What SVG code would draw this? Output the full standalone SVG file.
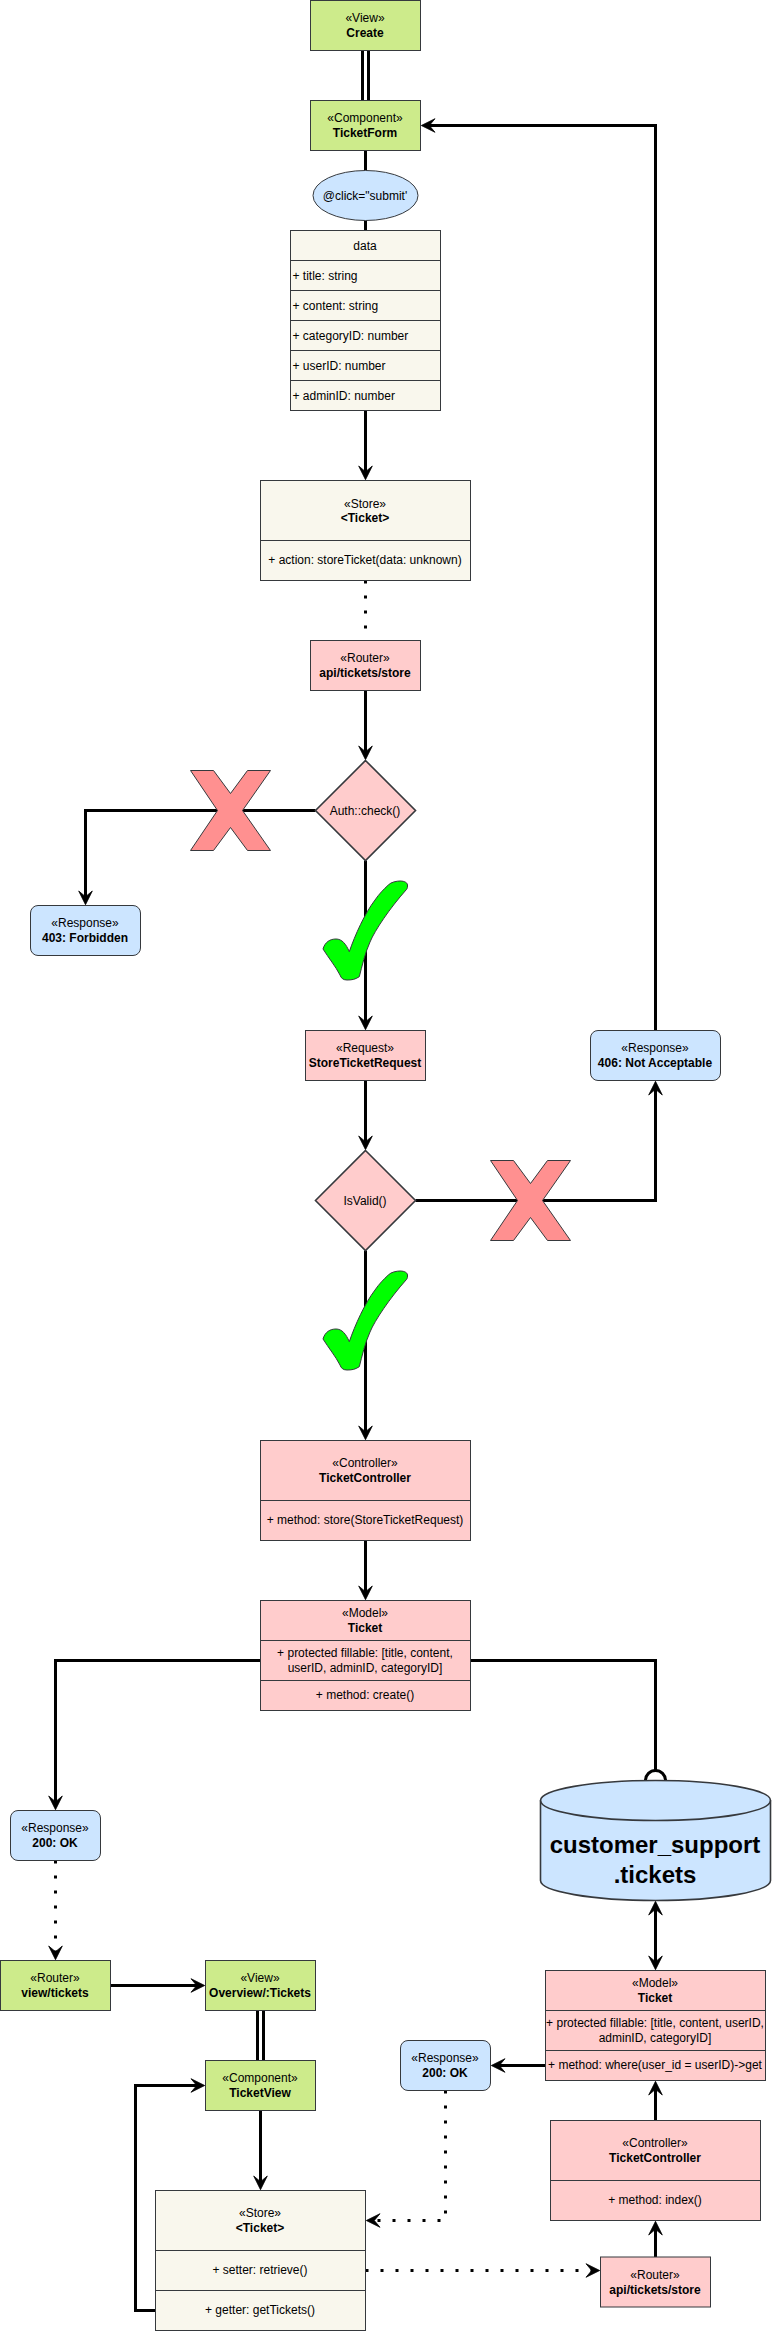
<svg xmlns="http://www.w3.org/2000/svg" width="772" height="2331" viewBox="0 0 772 2331">
<style>
text{font-family:"Liberation Sans",Arial,sans-serif;font-size:12px;fill:#000;text-anchor:middle}
.b{font-weight:bold}
.l{text-anchor:start}
.big{font-size:24px;font-weight:bold}
.s{stroke:#36393d;stroke-width:1}
.dm{stroke:#36393d;stroke-width:1.6}
.g{fill:#cdeb8b}.p{fill:#ffcccc}.c{fill:#f9f7ed}.u{fill:#cce5ff}
.d{fill:none;stroke:#36393d;stroke-width:1}
.x{fill:#ff9090;stroke:#36393d;stroke-width:1}
.k{fill:#00ff00;stroke:#36393d;stroke-width:1}
.w{fill:none;stroke:#000;stroke-width:3}
.a{marker-end:url(#h)}
.o{stroke-dasharray:3 12}
</style>
<defs>
<marker id="h" markerUnits="userSpaceOnUse" viewBox="0 0 15 15" markerWidth="15" markerHeight="15" refX="7" refY="7.5" orient="auto-start-reverse" overflow="visible"><path d="M14.2 7.5L0.5 0.7L6.2 7.5L0.5 14.3Z" fill="#000" stroke="#000" stroke-width="0.8"/></marker>
<path id="xm" d="M0 0H23L40 23L57 0H80L52 40L80 80H57L40 57L23 80H0L27 40Z"/>
<path id="ck" d="M349.3 201.7C355 185 365 163 375 150C379 144 384 139 388.3 135C391 132 397 131 400 131C405 131 408 133 407.5 136C407.5 138 407 139 406 140C390 158 375 180 370 192C365 203 362 216 359.3 226.7C355 229.5 352 230 347 230C343 230 341 228 340 225C336 217 328 207 323 199C325 192 330 189 336 189C342 189 346 194 349.3 201.7Z"/>
</defs>
<g id="connectors">
<path class="w" d="M362.5 50.5V100.5M368.5 50.5V100.5"/>
<path class="w" d="M365.5 150.5V170.5M365.5 220.5V230.5"/>
<path class="w a" d="M365.5 410.5V472.5"/>
<path class="w o" d="M365.5 580.5V640.5"/>
<path class="w a" d="M365.5 690.5V752.5"/>
<path class="w a" d="M315.5 810.5H85.5V897.5"/>
<path class="w a" d="M365.5 860.5V1022.5"/>
<path class="w a" d="M365.5 1080.5V1142.5"/>
<path class="w a" d="M415.5 1200.5H655.5V1088.5"/>
<path class="w a" d="M655.5 1030.5V125.5H428.5"/>
<path class="w a" d="M365.5 1250.5V1432.5"/>
<path class="w a" d="M365.5 1540.5V1592.5"/>
<path class="w a" d="M260.5 1660.5H55.5V1802.5"/>
<path class="w" d="M470.5 1660.5H655.5V1770.5M645.5 1780.5A10 10 0 0 1 665.5 1780.5"/>
<path class="w a" style="marker-start:url(#h)" d="M655.5 1908.5V1962.5"/>
<path class="w a" d="M545.5 2065.5H498.5"/>
<path class="w a" d="M655.5 2120.5V2088.5"/>
<path class="w a" d="M655.5 2257V2228.5"/>
<path class="w o a" d="M55.5 1860.5V1952.5"/>
<path class="w a" d="M110.5 1985.5H197.5"/>
<path class="w" d="M257.5 2010.5V2060.5M263.5 2010.5V2060.5"/>
<path class="w a" d="M260.5 2110.5V2182.5"/>
<path class="w a" d="M155.5 2310.5H135.5V2085.5H197.5"/>
<path class="w o a" d="M445.5 2090.5V2220.5H373.5"/>
<path class="w o a" d="M365.5 2270.5H592.5"/>
</g>
<g id="view-create"><rect class="s g" x="310.5" y="0.5" width="110" height="50"/><text x="365" y="21.7">«View»</text><text class="b" x="365" y="36.7">Create</text></g>
<g id="component-ticketform"><rect class="s g" x="310.5" y="100.5" width="110" height="50"/><text x="365" y="121.7">«Component»</text><text class="b" x="365" y="136.7">TicketForm</text></g>
<g id="click"><ellipse class="s u" cx="365.5" cy="195.5" rx="52.5" ry="25"/><text x="365" y="199.5">@click="submit'</text></g>
<g id="data"><rect class="s c" x="290.5" y="230.5" width="150" height="180"/><path class="d" d="M290.5 260.5H440.5M290.5 290.5H440.5M290.5 320.5H440.5M290.5 350.5H440.5M290.5 380.5H440.5"/>
<text x="365" y="249.5">data</text>
<text class="l" x="292.5" y="279.5">+ title: string</text>
<text class="l" x="292.5" y="309.5">+ content: string</text>
<text class="l" x="292.5" y="339.5">+ categoryID: number</text>
<text class="l" x="292.5" y="369.5">+ userID: number</text>
<text class="l" x="292.5" y="399.5">+ adminID: number</text></g>
<g id="store-1"><rect class="s c" x="260.5" y="480.5" width="210" height="100"/><path class="d" d="M260.5 540.5H470.5"/><text x="365" y="507.5">«Store»</text><text class="b" x="365" y="521.7">&lt;Ticket&gt;</text><text x="365" y="564">+ action: storeTicket(data: unknown)</text></g>
<g id="router-1"><rect class="s p" x="310.5" y="640.5" width="110" height="50"/><text x="365" y="661.7">«Router»</text><text class="b" x="365" y="676.7">api/tickets/store</text></g>
<g id="auth"><path class="dm p" d="M365.5 760.5L415.5 810.5L365.5 860.5L315.5 810.5Z"/><text x="365" y="814.5">Auth::check()</text></g>
<g id="cross-1"><use class="x" href="#xm" x="190.5" y="770.5"/></g>
<g id="response-403"><rect class="s u" x="30.5" y="905.5" width="110" height="50" rx="7.5"/><text x="85" y="926.7">«Response»</text><text class="b" x="85" y="941.7">403: Forbidden</text></g>
<g id="check-1"><use class="k" href="#ck" y="750"/></g>
<g id="request"><rect class="s p" x="305.5" y="1030.5" width="120" height="50"/><text x="365" y="1051.7">«Request»</text><text class="b" x="365" y="1066.7">StoreTicketRequest</text></g>
<g id="response-406"><rect class="s u" x="590.5" y="1030.5" width="130" height="50" rx="7.5"/><text x="655" y="1051.7">«Response»</text><text class="b" x="655" y="1066.7">406: Not Acceptable</text></g>
<g id="isvalid"><path class="dm p" d="M365.5 1150.5L415.5 1200.5L365.5 1250.5L315.5 1200.5Z"/><text x="365" y="1204.5">IsValid()</text></g>
<g id="cross-2"><use class="x" href="#xm" x="490.5" y="1160.5"/></g>
<g id="check-2"><use class="k" href="#ck" y="1140"/></g>
<g id="controller-1"><rect class="s p" x="260.5" y="1440.5" width="210" height="100"/><path class="d" d="M260.5 1500.5H470.5"/><text x="365" y="1466.7">«Controller»</text><text class="b" x="365" y="1481.7">TicketController</text><text x="365" y="1524">+ method: store(StoreTicketRequest)</text></g>
<g id="model-1"><rect class="s p" x="260.5" y="1600.5" width="210" height="110"/><path class="d" d="M260.5 1640.5H470.5M260.5 1680.5H470.5"/><text x="365" y="1617.3">«Model»</text><text class="b" x="365" y="1632.3">Ticket</text><text x="365" y="1657.3">+ protected fillable: [title, content,</text><text x="365" y="1672.3">userID, adminID, categoryID]</text><text x="365" y="1699.3">+ method: create()</text></g>
<g id="db"><path d="M540.5 1800.5C540.5 1789.5 592 1780.5 655.5 1780.5C719 1780.5 770.5 1789.5 770.5 1800.5V1880.5C770.5 1891.5 719 1900.5 655.5 1900.5C592 1900.5 540.5 1891.5 540.5 1880.5Z" fill="#cce5ff" stroke="#36393d" stroke-width="1.6"/><path d="M540.5 1800.5C540.5 1811.5 592 1820.5 655.5 1820.5C719 1820.5 770.5 1811.5 770.5 1800.5" fill="none" stroke="#36393d" stroke-width="1.6"/><text class="big" x="655" y="1853.3">customer_support</text><text class="big" x="655" y="1882.7">.tickets</text></g>
<g id="response-200-a"><rect class="s u" x="10.5" y="1810.5" width="90" height="50" rx="7.5"/><text x="55" y="1831.7">«Response»</text><text class="b" x="55" y="1846.7">200: OK</text></g>
<g id="router-view"><rect class="s g" x="0.5" y="1960.5" width="110" height="50"/><text x="55" y="1981.7">«Router»</text><text class="b" x="55" y="1996.7">view/tickets</text></g>
<g id="view-overview"><rect class="s g" x="205.5" y="1960.5" width="110" height="50"/><text x="260" y="1981.7">«View»</text><text class="b" x="260" y="1996.7">Overview/:Tickets</text></g>
<g id="component-ticketview"><rect class="s g" x="205.5" y="2060.5" width="110" height="50"/><text x="260" y="2081.7">«Component»</text><text class="b" x="260" y="2096.7">TicketView</text></g>
<g id="store-2"><rect class="s c" x="155.5" y="2190.5" width="210" height="140"/><path class="d" d="M155.5 2250.5H365.5M155.5 2290.5H365.5"/><text x="260" y="2216.7">«Store»</text><text class="b" x="260" y="2231.7">&lt;Ticket&gt;</text><text x="260" y="2274">+ setter: retrieve()</text><text x="260" y="2314">+ getter: getTickets()</text></g>
<g id="model-2"><rect class="s p" x="545.5" y="1970.5" width="220" height="110"/><path class="d" d="M545.5 2010.5H765.5M545.5 2050.5H765.5"/><text x="655" y="1987.3">«Model»</text><text class="b" x="655" y="2002.3">Ticket</text><text x="655" y="2027.3">+ protected fillable: [title, content, userID,</text><text x="655" y="2042.3">adminID, categoryID]</text><text x="655" y="2069.3">+ method: where(user_id = userID)-&gt;get</text></g>
<g id="response-200-b"><rect class="s u" x="400.5" y="2040.5" width="90" height="50" rx="7.5"/><text x="445" y="2061.7">«Response»</text><text class="b" x="445" y="2076.7">200: OK</text></g>
<g id="controller-2"><rect class="s p" x="550.5" y="2120.5" width="210" height="100"/><path class="d" d="M550.5 2180.5H760.5"/><text x="655" y="2146.7">«Controller»</text><text class="b" x="655" y="2161.7">TicketController</text><text x="655" y="2204">+ method: index()</text></g>
<g id="router-2"><rect class="s p" x="600.5" y="2257" width="110" height="50"/><text x="655" y="2279">«Router»</text><text class="b" x="655" y="2294">api/tickets/store</text></g>
</svg>
